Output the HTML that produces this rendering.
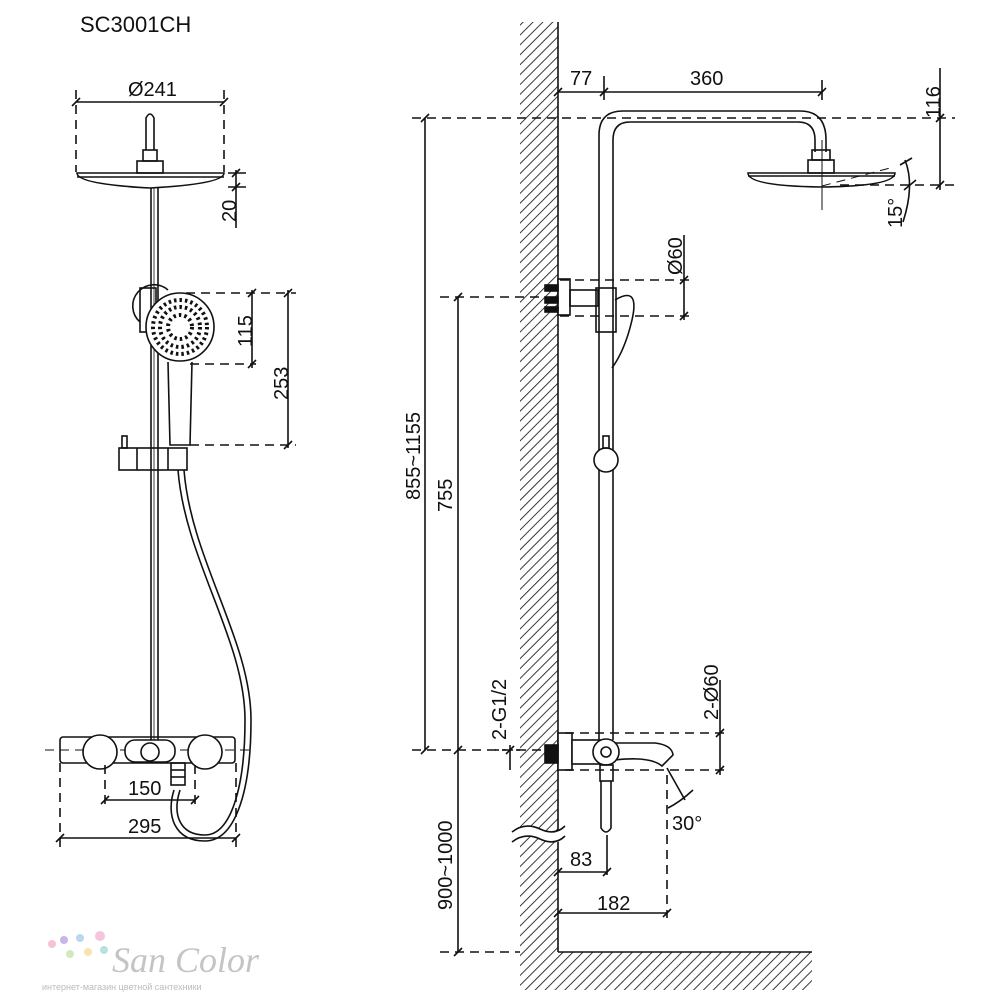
<!DOCTYPE html>
<html><head><meta charset="utf-8"><style>
html,body{margin:0;padding:0;background:#fff}
svg{display:block}
text{font-family:"Liberation Sans","DejaVu Sans",sans-serif;fill:#111}
</style></head><body>
<svg width="1000" height="1000" viewBox="0 0 1000 1000" xmlns="http://www.w3.org/2000/svg">
<defs>
<pattern id="h" width="7" height="7" patternUnits="userSpaceOnUse" patternTransform="rotate(45)">
<line x1="0" y1="0" x2="0" y2="7" stroke="#222" stroke-width="1.8"/></pattern>
</defs>
<g stroke="#111" fill="none" stroke-width="1.6">
<!-- LEFT VIEW -->
<text x="80" y="32" font-size="22" stroke="none">SC3001CH</text>
<line x1="76" y1="102" x2="224" y2="102"/>
<line x1="72" y1="106" x2="80" y2="98"/><line x1="220" y1="106" x2="228" y2="98"/>
<g stroke-dasharray="9,6">
<line x1="76" y1="90" x2="76" y2="172"/><line x1="224" y1="90" x2="224" y2="172"/>
</g>
<text x="128" y="96" font-size="20" stroke="none">Ø241</text>
<path d="M77 173 L224 173 Q224 184 150 188 Q77 184 77 173 Z"/>
<line x1="77" y1="177" x2="224" y2="177"/>
<rect x="137" y="161" width="26" height="12"/>
<rect x="143" y="150" width="14" height="11"/>
<path d="M146 150 L146 118 Q150 110 154 118 L154 150"/>
<line x1="236" y1="170" x2="236" y2="228"/>
<line x1="228" y1="173" x2="246" y2="173"/><line x1="228" y1="187" x2="246" y2="187"/>
<line x1="232" y1="177" x2="240" y2="169"/><line x1="232" y1="191" x2="240" y2="183"/>
<text transform="translate(236,222) rotate(-90)" font-size="20" stroke="none">20</text>
<line x1="151" y1="188" x2="151" y2="740"/><line x1="158" y1="188" x2="158" y2="740"/>
<line x1="154" y1="188" x2="154" y2="740" stroke-width="0.8"/>
<path d="M140 322 A18 18 0 1 1 168 290"/>
<rect x="140" y="288" width="16" height="44"/>
<circle cx="180" cy="327" r="34" fill="#fff"/>
<circle cx="180" cy="327" r="27" stroke-dasharray="2.5,3" stroke-width="4"/>
<circle cx="180" cy="327" r="20" stroke-dasharray="2.5,3" stroke-width="4"/>
<circle cx="180" cy="327" r="12" stroke-dasharray="2.5,3" stroke-width="4"/>
<path d="M168 362 L170 445 L190 445 L192 362"/>
<rect x="119" y="448" width="68" height="22"/>
<line x1="137" y1="448" x2="137" y2="470"/><line x1="168" y1="448" x2="168" y2="470"/>
<rect x="122" y="436" width="5" height="12"/>
<path d="M178 470 C185 560 245 640 245 720 C245 790 230 835 205 835 C180 835 172 815 180 790"/>
<path d="M184 470 C191 560 251 640 251 720 C251 795 234 841 205 841 C174 841 166 815 174 790"/>
<g stroke-dasharray="9,6">
<line x1="186" y1="293" x2="296" y2="293"/><line x1="190" y1="364" x2="256" y2="364"/>
<line x1="190" y1="445" x2="296" y2="445"/>
</g>
<line x1="252" y1="290" x2="252" y2="368"/><line x1="248" y1="297" x2="256" y2="289"/><line x1="248" y1="368" x2="256" y2="360"/>
<line x1="288" y1="290" x2="288" y2="448"/><line x1="284" y1="297" x2="292" y2="289"/><line x1="284" y1="449" x2="292" y2="441"/>
<text transform="translate(252,347) rotate(-90)" font-size="20" stroke="none">115</text>
<text transform="translate(288,400) rotate(-90)" font-size="20" stroke="none">253</text>
<rect x="60" y="737" width="175" height="26" rx="3"/>
<line x1="45" y1="750" x2="255" y2="750" stroke-dasharray="9,6" stroke-width="1"/>
<circle cx="100" cy="752" r="17" fill="#fff"/>
<circle cx="205" cy="752" r="17" fill="#fff"/>
<rect x="125" y="740" width="50" height="22" rx="10" fill="#fff"/>
<circle cx="150" cy="752" r="9" fill="#fff"/>
<rect x="171" y="763" width="14" height="22"/>
<line x1="171" y1="770" x2="185" y2="770"/><line x1="171" y1="777" x2="185" y2="777"/>
<g stroke-dasharray="9,6">
<line x1="60" y1="763" x2="60" y2="848"/><line x1="236" y1="763" x2="236" y2="848"/>
<line x1="105" y1="765" x2="105" y2="808"/><line x1="195" y1="765" x2="195" y2="808"/>
</g>
<line x1="105" y1="800" x2="195" y2="800"/><line x1="101" y1="804" x2="109" y2="796"/><line x1="191" y1="804" x2="199" y2="796"/>
<line x1="60" y1="838" x2="236" y2="838"/><line x1="56" y1="842" x2="64" y2="834"/><line x1="232" y1="842" x2="240" y2="834"/>
<text x="128" y="795" font-size="20" stroke="none">150</text>
<text x="128" y="833" font-size="20" stroke="none">295</text>

<!-- RIGHT VIEW -->
<rect x="520" y="22" width="38" height="930" fill="url(#h)" stroke="none"/>
<line x1="558" y1="22" x2="558" y2="952"/>
<rect x="520" y="952" width="292" height="38" fill="url(#h)" stroke="none"/>
<line x1="558" y1="952" x2="812" y2="952"/>
<path d="M512 837 Q525 827 540 834 Q555 842 565 832" fill="none" stroke="#fff" stroke-width="10"/>
<path d="M512 832 Q525 822 540 829 Q555 836 565 826"/>
<path d="M512 842 Q525 832 540 839 Q555 846 565 836"/>
<path d="M599 740 L599 135 Q599 111 623 111 L800 111 Q826 111 826 140 L826 152"/>
<path d="M613 740 L613 140 Q613 122 630 122 L798 122 Q815 122 815 140 L815 152"/>
<rect x="812" y="150" width="18" height="10"/>
<rect x="808" y="160" width="26" height="13"/>
<path d="M748 173 L895 173 Q895 186 822 187 Q748 186 748 173 Z"/>
<line x1="748" y1="176" x2="895" y2="176"/>
<line x1="822" y1="140" x2="822" y2="210" stroke-width="1"/>
<line x1="822" y1="186" x2="890" y2="168" stroke-dasharray="9,6" stroke-width="1"/>
<path d="M905 160 Q915 185 903 222"/>
<line x1="900" y1="165" x2="912" y2="158"/><line x1="904" y1="190" x2="916" y2="180"/>
<text transform="translate(902,228) rotate(-90)" font-size="20" stroke="none">15°</text>
<line x1="940" y1="68" x2="940" y2="190"/>
<line x1="936" y1="122" x2="944" y2="114"/><line x1="936" y1="189" x2="944" y2="181"/>
<text transform="translate(940,118) rotate(-90)" font-size="20" stroke="none">116</text>
<g stroke-dasharray="9,6">
<line x1="412" y1="118" x2="955" y2="118"/><line x1="840" y1="185" x2="955" y2="185"/>
</g>
<line x1="558" y1="92" x2="822" y2="92"/>
<line x1="604" y1="76" x2="604" y2="100"/><line x1="822" y1="80" x2="822" y2="100"/>
<line x1="554" y1="96" x2="562" y2="88"/><line x1="600" y1="96" x2="608" y2="88"/><line x1="818" y1="96" x2="826" y2="88"/>
<text x="570" y="85" font-size="20" stroke="none">77</text>
<text x="690" y="85" font-size="20" stroke="none">360</text>
<rect x="558" y="279" width="12" height="36" fill="#fff"/>
<rect x="545" y="285" width="13" height="6" fill="#111"/><rect x="545" y="297" width="13" height="6" fill="#111"/><rect x="545" y="307" width="13" height="5" fill="#111"/>
<rect x="570" y="290" width="28" height="16"/>
<rect x="596" y="288" width="20" height="44"/>
<path d="M615 300 Q640 285 632 320 Q625 350 612 368"/>
<g stroke-dasharray="9,6">
<line x1="560" y1="280" x2="692" y2="280"/><line x1="560" y1="316" x2="692" y2="316"/>
<line x1="440" y1="297" x2="545" y2="297"/>
</g>
<line x1="684" y1="235" x2="684" y2="320"/>
<line x1="680" y1="284" x2="688" y2="276"/><line x1="680" y1="320" x2="688" y2="312"/>
<text transform="translate(682,275) rotate(-90)" font-size="20" stroke="none">Ø60</text>
<circle cx="606" cy="460" r="12" fill="#fff"/>
<rect x="603" y="436" width="6" height="12"/>
<rect x="558" y="733" width="14" height="37" fill="#fff"/>
<rect x="545" y="745" width="13" height="18" fill="#111"/>
<rect x="572" y="740" width="28" height="24" fill="#fff"/>
<path d="M613 743 L655 743 Q672 745 673 755 L662 766 Q650 756 615 760"/>
<circle cx="606" cy="752" r="13" fill="#fff"/><circle cx="606" cy="752" r="5"/>
<rect x="600" y="765" width="13" height="16"/>
<path d="M601 781 L601 828 Q606 836 611 828 L611 781"/>
<g stroke-dasharray="9,6">
<line x1="565" y1="733" x2="730" y2="733"/><line x1="565" y1="770" x2="730" y2="770"/>
<line x1="412" y1="750" x2="545" y2="750"/><line x1="440" y1="952" x2="520" y2="952"/>
<line x1="667" y1="775" x2="667" y2="918"/>
</g>
<line x1="720" y1="680" x2="720" y2="775"/>
<line x1="716" y1="737" x2="724" y2="729"/><line x1="716" y1="774" x2="724" y2="766"/>
<text transform="translate(718,720) rotate(-90)" font-size="20" stroke="none">2-Ø60</text>
<line x1="510" y1="745" x2="510" y2="770"/><line x1="506" y1="754" x2="514" y2="746"/>
<line x1="495" y1="750" x2="520" y2="750" stroke-dasharray="4,3"/>
<text transform="translate(506,740) rotate(-90)" font-size="20" stroke="none">2-G1/2</text>
<line x1="667" y1="768" x2="685" y2="800"/>
<path d="M668 808 Q680 802 693 790"/>
<text x="672" y="830" font-size="20" stroke="none">30°</text>
<line x1="558" y1="872" x2="607" y2="872"/><line x1="607" y1="835" x2="607" y2="875"/>
<line x1="554" y1="876" x2="562" y2="868"/><line x1="603" y1="876" x2="611" y2="868"/>
<text x="570" y="866" font-size="20" stroke="none">83</text>
<line x1="558" y1="913" x2="667" y2="913"/>
<line x1="554" y1="917" x2="562" y2="909"/><line x1="663" y1="917" x2="671" y2="909"/>
<text x="597" y="910" font-size="20" stroke="none">182</text>
<line x1="425" y1="118" x2="425" y2="750"/>
<line x1="421" y1="122" x2="429" y2="114"/><line x1="421" y1="754" x2="429" y2="746"/>
<text transform="translate(420,500) rotate(-90)" font-size="20" stroke="none">855~1155</text>
<line x1="458" y1="297" x2="458" y2="952"/>
<line x1="454" y1="301" x2="462" y2="293"/><line x1="454" y1="754" x2="462" y2="746"/><line x1="454" y1="956" x2="462" y2="948"/>
<text transform="translate(452,512) rotate(-90)" font-size="20" stroke="none">755</text>
<text transform="translate(452,910) rotate(-90)" font-size="20" stroke="none">900~1000</text>
</g>
<g>
<circle cx="52" cy="944" r="4" fill="#f6c2d4"/><circle cx="64" cy="940" r="4" fill="#c9b5ea"/>
<circle cx="80" cy="938" r="4" fill="#b8d7f2"/><circle cx="100" cy="936" r="5" fill="#f5c4dd"/>
<circle cx="70" cy="954" r="4" fill="#cfeac0"/><circle cx="88" cy="952" r="4" fill="#f7e2b0"/>
<circle cx="104" cy="950" r="4" fill="#b9e0e0"/>
<text x="112" y="972" font-size="36" font-style="italic" style="fill:#c4c4c4;font-family:'Liberation Serif',serif">San Color</text>
<text x="42" y="990" font-size="9" style="fill:#bbb">интернет-магазин цветной сантехники</text>
</g>
</svg>
</body></html>
